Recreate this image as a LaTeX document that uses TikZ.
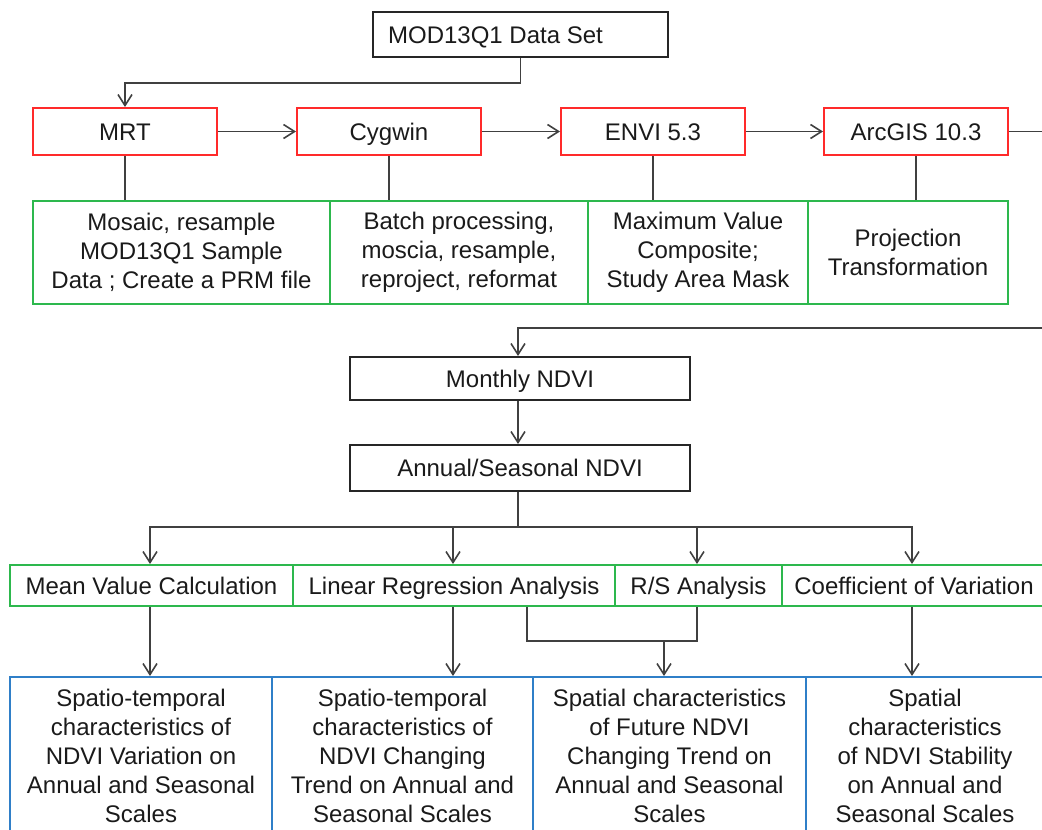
\documentclass[tikz,border=0pt]{standalone}
\usepackage{fontspec}
\setmainfont{Liberation Sans}
\usetikzlibrary{arrows.meta}
\definecolor{redb}{HTML}{FF2A2A}
\definecolor{greenb}{HTML}{2DB84D}
\definecolor{blueb}{HTML}{2F7FC8}
\definecolor{linec}{HTML}{404040}
\definecolor{txt}{HTML}{1A1A1A}
\begin{document}
\begin{tikzpicture}[x=1pt,y=-1pt,
 box/.style={draw, line width=2pt, inner sep=0pt, align=center, font=\fontsize{24}{29}\selectfont, text=txt},
 oneline/.style={text height=18pt, text depth=0.8pt},
 blackbox/.style={box, oneline, draw=black!85},
 redbox/.style={box, oneline, draw=redb, minimum width=184pt, minimum height=47pt},
 greenbox/.style={box, draw=greenb},
 greenone/.style={greenbox, oneline, minimum height=41pt},
 bluebox/.style={box, draw=blueb, minimum height=158pt},
 conn/.style={draw=linec, line width=1.6pt},
 arr/.style={conn, -{Straight Barb[length=11pt,width=14pt]}}
]
\useasboundingbox (0,0) rectangle (1042,830);
\clip (0,0) rectangle (1042,830);

% top
\node[blackbox, minimum width=295pt, minimum height=45pt] (mod) at (520.5,34.5) {MOD13Q1 Data Set\hspace{50pt}};

% red row
\node[redbox] (mrt) at (125,131.5) {MRT};
\node[redbox] (cyg) at (389,131.5) {Cygwin};
\node[redbox] (envi) at (653,131.5) {ENVI 5.3};
\node[redbox] (arc) at (916,131.5) {ArcGIS 10.3};

% green row 1
\node[greenbox, minimum width=297pt, minimum height=103pt] (g1) at (181.5,252.5) {Mosaic, resample\\MOD13Q1 Sample\\Data ; Create a PRM file};
\node[greenbox, minimum width=258pt, minimum height=103pt] (g2) at (459,252.5) {Batch processing,\\moscia, resample,\\reproject, reformat};
\node[greenbox, minimum width=220pt, minimum height=103pt] (g3) at (698,252.5) {Maximum Value\\Composite;\\Study Area Mask};
\node[greenbox, minimum width=200pt, minimum height=103pt] (g4) at (908,252.5) {Projection\\Transformation};

% middle
\node[blackbox, minimum width=340pt, minimum height=43pt] (mon) at (520,378.5) {Monthly NDVI};
\node[blackbox, minimum width=340pt, minimum height=46pt] (ann) at (520,468) {Annual/Seasonal NDVI};

% green row 2
\node[greenone, minimum width=283pt] (m1) at (151.5,585.5) {Mean Value Calculation};
\node[greenone, minimum width=322pt] (m2) at (454,585.5) {Linear Regression Analysis};
\node[greenone, minimum width=167pt] (m3) at (698.5,585.5) {R/S Analysis};
\node[greenone, minimum width=264pt] (m4) at (914,585.5) {Coefficient of Variation};

% blue row
\node[bluebox, minimum width=262pt] (b1) at (141,756) {Spatio-temporal\\characteristics of\\NDVI Variation on\\Annual and Seasonal\\Scales};
\node[bluebox, minimum width=261pt] (b2) at (402.5,756) {Spatio-temporal\\characteristics of\\NDVI Changing\\Trend on Annual and\\Seasonal Scales};
\node[bluebox, minimum width=273pt] (b3) at (669.5,756) {Spatial characteristics\\of Future NDVI\\Changing Trend on\\Annual and Seasonal\\Scales};
\node[bluebox, minimum width=238pt] (b4) at (925,756) {Spatial\\characteristics\\of NDVI Stability\\on Annual and\\Seasonal Scales};

% connectors top
\draw[arr] (mod.south) -- ++(0,25) -| (mrt.north);
\draw[arr] (mrt.east) -- (cyg.west);
\draw[arr] (cyg.east) -- (envi.west);
\draw[arr] (envi.east) -- (arc.west);
\foreach \a/\b in {mrt/g1,cyg/g2,envi/g3,arc/g4}
  \draw[conn] (\a.south) -- (\a.south |- \b.north);

\coordinate (re) at (1060,131.5);
\coordinate (re2) at (1060,328);
\draw[conn] (arc.east) -- (re) -- (re2);
\draw[arr] (re2) -| ([xshift=-2pt]mon.north);
\draw[arr] ([xshift=-2pt]mon.south) -- ([xshift=-2pt]ann.north);

\coordinate (bar) at (518,527);
\draw[conn] ([xshift=-2pt]ann.south) -- (bar);
\draw[arr] (bar) -| ([xshift=-1.5pt]m1.north);
\draw[arr] (bar) -| ([xshift=-1pt]m2.north);
\draw[arr] (bar) -| ([xshift=-1.5pt]m3.north);
\draw[arr] (bar) -| ([xshift=-2pt]m4.north);

% connectors bottom
\draw[arr] ([xshift=-1.5pt]m1.south) -- ([xshift=-1.5pt]m1.south |- b1.north);
\draw[arr] ([xshift=-1pt]m2.south) -- ([xshift=-1pt]m2.south |- b2.north);
\draw[arr] ([xshift=-2pt]m4.south) -- ([xshift=-2pt]m4.south |- b4.north);
\coordinate (j) at (664,641);
\draw[conn] ([xshift=73pt]m2.south) |- ([xshift=-1.5pt]m3.south |- j) -- ([xshift=-1.5pt]m3.south);
\draw[arr] (j) -- (j |- b3.north);
\end{tikzpicture}
\end{document}
